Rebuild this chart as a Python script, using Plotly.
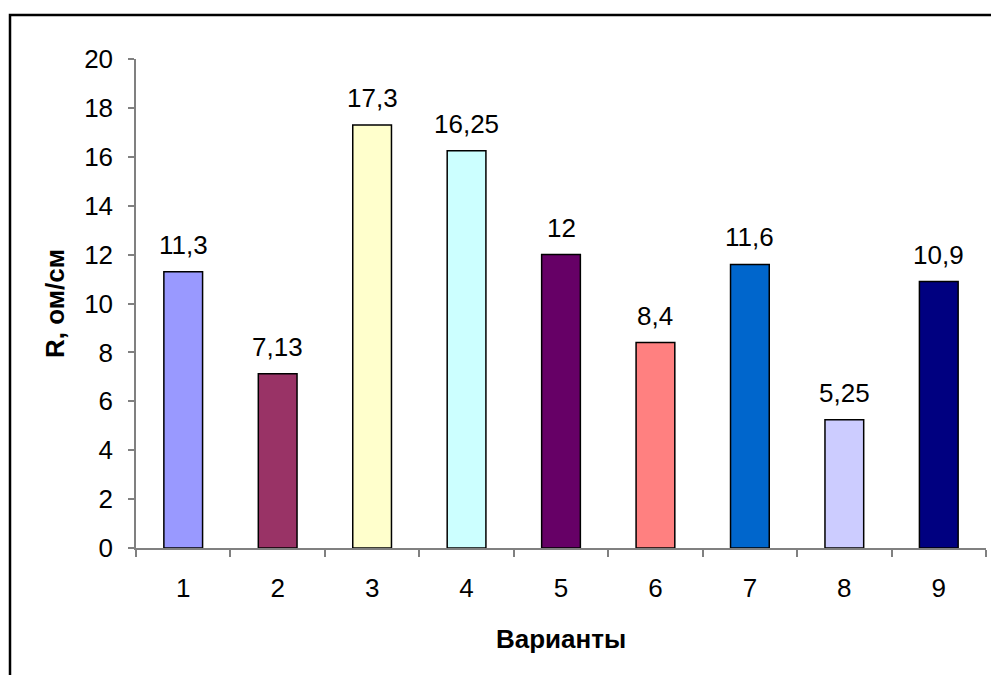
import plotly.graph_objects as go

categories = ["1", "2", "3", "4", "5", "6", "7", "8", "9"]
values = [11.3, 7.13, 17.3, 16.25, 12, 8.4, 11.6, 5.25, 10.9]
value_labels = ["11,3", "7,13", "17,3", "16,25", "12", "8,4", "11,6", "5,25", "10,9"]
colors = ["#9999FF", "#993366", "#FFFFCC", "#CCFFFF", "#660066",
          "#FF8080", "#0066CC", "#CCCCFF", "#000080"]
y_ticks = [0, 2, 4, 6, 8, 10, 12, 14, 16, 18, 20]

font_family = "Liberation Sans, Arial, sans-serif"
FS = 26

fig = go.Figure(go.Bar(
    x=categories, y=values,
    marker=dict(color=colors, line=dict(color="black", width=1.5)),
    width=0.41,
    cliponaxis=False,
))

# value labels placed above each bar (category index on the category axis)
annotations = [
    dict(x=i, y=v, xref="x", yref="y", text=t, showarrow=False,
         yanchor="bottom", yshift=10,
         font=dict(size=FS, color="black", family=font_family))
    for i, (v, t) in enumerate(zip(values, value_labels))
]

fig.update_layout(
    width=991, height=675,
    margin=dict(l=136, r=5, t=59, b=127),
    paper_bgcolor="white", plot_bgcolor="white",
    showlegend=False,
    font=dict(family=font_family, color="black"),
    xaxis=dict(
        type="category", tickson="boundaries",
        categoryorder="array", categoryarray=categories,
        range=[-0.5, len(categories) - 0.5],
        showline=True, linecolor="#808080", linewidth=1.5,
        ticks="outside", ticklen=7, tickcolor="#808080", tickwidth=1.5,
        tickfont=dict(size=FS), showgrid=False, zeroline=False,
        ticklabelstandoff=16,
        title=dict(text="<b>Варианты</b>", font=dict(size=FS), standoff=28),
    ),
    yaxis=dict(
        range=[0, 20], tickvals=y_ticks,
        showline=True, linecolor="#808080", linewidth=1.5,
        ticks="outside", ticklen=6, tickcolor="#808080", tickwidth=1.5,
        tickfont=dict(size=FS), showgrid=False, zeroline=False,
        ticklabelstandoff=10,
        title=dict(text="<b>R, ом/см</b>", font=dict(size=FS), standoff=12),
    ),
    annotations=annotations,
    shapes=[dict(
        type="rect", xref="paper", yref="paper",
        x0=(10 - 136) / 850, x1=1.2,
        y0=-0.5, y1=(548 - 15) / 489,
        line=dict(color="black", width=2.5), fillcolor="rgba(0,0,0,0)",
        layer="below",
    )],
)

fig.write_html("out.html")
